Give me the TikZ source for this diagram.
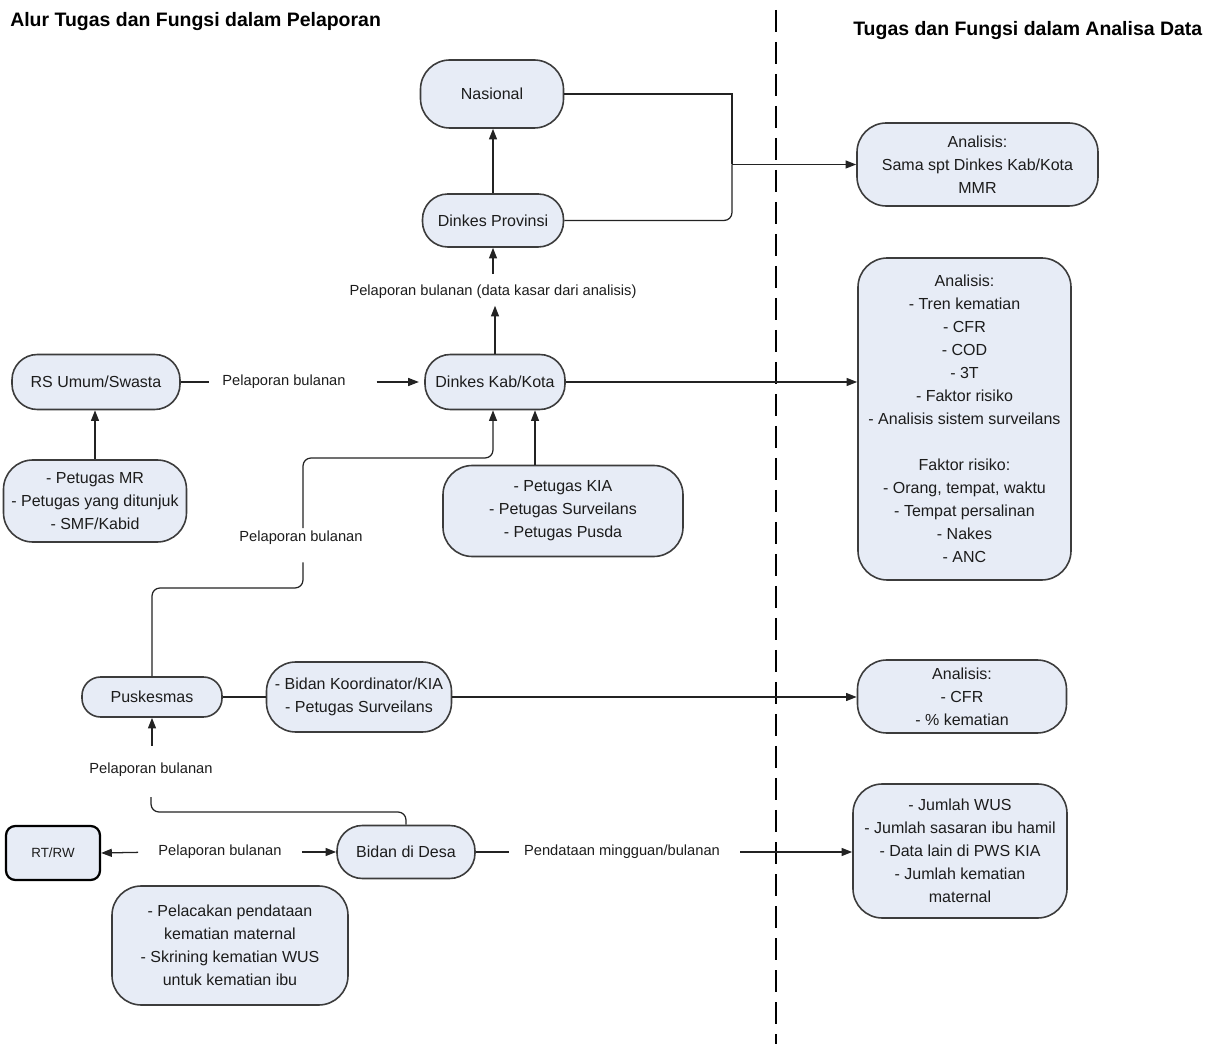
\documentclass[tikz,border=0pt]{standalone}
\usepackage{fontspec}
\setmainfont{Liberation Sans}
\usetikzlibrary{arrows.meta}

\definecolor{boxfill}{RGB}{231,236,246}
\definecolor{boxline}{RGB}{60,60,60}
\definecolor{wire}{RGB}{35,35,35}
\definecolor{txt}{RGB}{28,28,28}

\begin{document}
\begin{tikzpicture}[x=0.75pt,y=-0.75pt,
  box/.style={draw=boxline, line width=1.2pt, fill=boxfill, rounded corners=22pt,
    align=center, inner sep=0pt, text=txt,
    font=\fontsize{12}{17.25}\selectfont},
  pill/.style={rounded corners=19pt},
  sz/.style 2 args={minimum width=#1*0.75pt, minimum height=#2*0.75pt},
  lbl/.style={inner sep=0pt, text=txt, font=\fontsize{11}{13}\selectfont},
  ttl/.style={inner sep=0pt, anchor=base west, text=black,
    font=\fontsize{14.6}{17}\selectfont\bfseries},
  conn/.style={draw=wire, line width=0.95pt},
  arr/.style={conn, -{Triangle[length=8pt,width=6pt]}},
  sep/.style={draw=black, line width=1.1pt, dash pattern=on 16.5pt off 7.5pt}
]
\useasboundingbox (0,0) rectangle (1215,1044);

% headings
\node[ttl] (t1) at (10,27) {Alur Tugas dan Fungsi dalam Pelaporan};
\node[ttl] (t2) at (853,36) {Tugas dan Fungsi dalam Analisa Data};

% separator between the two halves
\coordinate (septop) at (776,10);
\coordinate (sepbot) at (776,1044);
\draw[sep] (septop) -- (sepbot);

% reporting chain
\node[box, sz={143}{68}] (nas) at (492,94) {Nasional};
\node[box, pill, sz={141}{53}] (prov) at (493,220.5) {Dinkes Provinsi};
\node[lbl] (lblprov) at (493,292) {Pelaporan bulanan (data kasar dari analisis)};
\node[box, pill, sz={140}{55}] (kab) at (495,382) {Dinkes Kab/Kota};
\node[box, pill, sz={168}{55}] (rs) at (96,382) {RS Umum/Swasta};
\node[lbl] (lblrs) at (284,382) {Pelaporan bulanan};
\node[box, sz={183}{82}] (mr) at (95,501) {- Petugas MR\\- Petugas yang ditunjuk\\- SMF/Kabid};
\node[box, sz={240}{91}] (kia) at (563,511) {- Petugas KIA\\- Petugas Surveilans\\- Petugas Pusda};
\node[lbl] (lblpk) at (301,538) {Pelaporan bulanan};
\node[box, sz={140}{40}, rounded corners=14pt] (pusk) at (152,697) {Puskesmas};
\node[box, sz={185}{70}] (bk) at (359,697) {- Bidan Koordinator/KIA\\- Petugas Surveilans};
\node[lbl] (lblpus) at (151,770) {Pelaporan bulanan};
\node[box, sz={94}{54}, draw=black, line width=1.7pt, rounded corners=7pt,
      font=\fontsize{10}{12}\selectfont] (rtrw) at (53,853) {RT/RW};
\node[lbl] (lblrt) at (220,852) {Pelaporan bulanan};
\node[box, pill, sz={138}{53}] (bd) at (406,852) {Bidan di Desa};
\node[lbl] (lblpd) at (622,852) {Pendataan mingguan/bulanan};
\node[box, sz={236}{119}] (pel) at (230,945.5)
  {- Pelacakan pendataan\\kematian maternal\\- Skrining kematian WUS\\untuk kematian ibu};

% analysis boxes
\node[box, sz={241}{83}] (sama) at (977.5,164.5) {Analisis:\\Sama spt Dinkes Kab/Kota\\MMR};
\node[box, sz={213}{322}] (big) at (964.5,419)
  {Analisis:\\- Tren kematian\\- CFR\\- COD\\- 3T\\- Faktor risiko\\- Analisis sistem surveilans\\[17.25pt]
   Faktor risiko:\\- Orang, tempat, waktu\\- Tempat persalinan\\- Nakes\\- ANC};
\node[box, sz={209}{73}] (cfr) at (962,696.5) {Analisis:\\- CFR\\- \% kematian};
\node[box, sz={214}{134}] (wus) at (960,851)
  {- Jumlah WUS\\- Jumlah sasaran ibu hamil\\- Data lain di PWS KIA\\- Jumlah kematian\\maternal};

% connectors: upper chain
\draw[arr] (prov.north) -- (prov.north |- nas.south);
\draw[arr, shorten <=8pt] (lblprov.north -| prov.south) -- (prov.south);
\draw[arr, shorten >=5pt] (kab.north) -- (kab.north |- lblprov.south);

\coordinate (jn) at (732,164.5);
\draw[conn] (nas.east) -| (jn);
\draw[conn, rounded corners=6pt] (prov.east) -| (jn);
\draw[arr] (jn) -- (sama.west);

% hospitals
\draw[conn, shorten >=10pt] (rs.east) -- (lblrs.west);
\draw[arr, shorten <=23pt, shorten >=4pt] (lblrs.east) -- (kab.west);
\draw[arr] (mr.north) -- (mr.north |- rs.south);

% district staff
\coordinate (kiaup) at ([xshift=30pt]kab.south);
\draw[arr] (kia.north -| kiaup) -- (kiaup);
\draw[arr] (kab.east) -- (kab.east -| big.west);

% Puskesmas up to district
\coordinate (pk1) at (303,588);
\coordinate (pk2) at (303,458);
\coordinate (pk3) at (493,458);
\draw[conn, rounded corners=6pt, shorten >=13pt]
  (pusk.north) |- (pk1) -- (pk1 |- lblpk.south);
\draw[arr, rounded corners=6pt, shorten <=2pt]
  (pk2 |- lblpk.north) -- (pk2) -- (pk3) -- (pk3 |- kab.south);

\draw[conn] (pusk.east) -- (bk.west);
\draw[arr] (bk.east) -- (bk.east -| cfr.west);

% village level
\coordinate (bd1) at (406,812);
\draw[arr, shorten <=13pt] (lblpus.north -| pusk.south) -- (pusk.south);
\draw[conn, rounded corners=6pt, shorten >=15pt]
  (bd.north) -- (bd1) -- (bd1 -| lblpus.south) -- (lblpus.south);
\draw[arr, shorten <=15pt] (lblrt.west) -- (rtrw.east);
\draw[arr, shorten <=15pt] (lblrt.east) -- (bd.west);
\draw[conn, shorten >=11pt] (bd.east) -- (lblpd.west);
\draw[arr, shorten <=15pt] (lblpd.east) -- (lblpd.east -| wus.west);
\end{tikzpicture}
\end{document}
